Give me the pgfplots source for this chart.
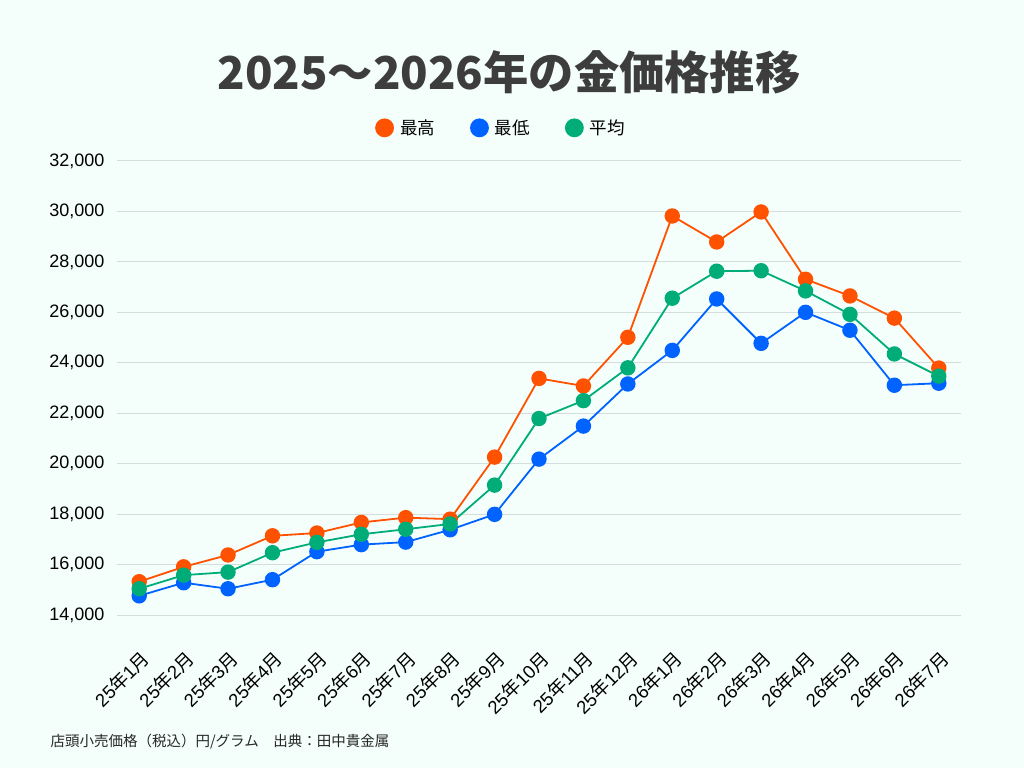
\documentclass[border=0pt]{standalone}
\usepackage{pgfplots}
\pgfplotsset{compat=1.18}
\usepackage{fontspec}
\setmainfont{Liberation Sans}
\newfontfamily\cjk{Noto Sans CJK JP}
\definecolor{bg}{HTML}{F4FFFC}
\definecolor{cHigh}{HTML}{FF5200}
\definecolor{cLow}{HTML}{0062FF}
\definecolor{cAvg}{HTML}{00AD78}
\definecolor{gridc}{HTML}{D5DCDC}
\definecolor{titlec}{HTML}{3D3D3D}
\newcommand\J[1]{{\cjk #1}}
\begin{document}
\begin{tikzpicture}[x=1pt,y=1pt]
\fill[bg] (0,0) rectangle (1024,768);
\useasboundingbox (0,0) rectangle (1024,768);
\node[font=\cjk\bfseries\fontsize{45.3}{45.3}\selectfont, text=titlec] at (509,696) {2025～2026年の金価格推移};
\node[anchor=west, font=\cjk\fontsize{14.5}{14.5}\selectfont, text=black!85] at (47,26) {店頭小売価格（税込）円/グラム　出典：田中貴金属};
\begin{axis}[
  at={(117pt,153pt)}, anchor=south west,
  width=844pt, height=454pt, scale only axis,
  xmin=-0.5, xmax=18.5, ymin=14000, ymax=32000,
  axis line style={draw=none},
  major tick length=0pt,
  ymajorgrids, grid style={gridc, line width=1pt},
  ytick={14000,16000,...,32000},
  scaled y ticks=false,
  /pgf/number format/1000 sep={,},
  /pgf/number format/assume math mode=true,
  y tick label style={font=\fontsize{18}{18}\selectfont, xshift=-9pt},
  xtick={0,...,18},
  xticklabels={25\J{年}1\J{月},25\J{年}2\J{月},25\J{年}3\J{月},25\J{年}4\J{月},25\J{年}5\J{月},25\J{年}6\J{月},25\J{年}7\J{月},25\J{年}8\J{月},25\J{年}9\J{月},25\J{年}10\J{月},25\J{年}11\J{月},25\J{年}12\J{月},26\J{年}1\J{月},26\J{年}2\J{月},26\J{年}3\J{月},26\J{年}4\J{月},26\J{年}5\J{月},26\J{年}6\J{月},26\J{年}7\J{月}},
  x tick label style={yshift=-29pt, xshift=0.5pt, rotate=45, anchor=north east, font=\fontsize{18.5}{18.5}\selectfont},
  clip=false,
  legend columns=3,
  legend style={at={(axis description cs:0.455,1.073)}, anchor=center, draw=none, fill=none,
    font=\cjk\fontsize{17.5}{17.5}\selectfont,
    /tikz/every even column/.append style={column sep=33pt}},
  legend image code/.code={\path[draw=none,fill=none] (0pt,0pt) -- (22pt,0pt); \fill (8.5pt,0pt) circle (8.5pt);},
  every axis plot/.append style={line width=1.8pt, mark=*, mark size=6.8pt, mark options={solid}},
]
\addplot[color=cHigh] coordinates {(0,15320)(1,15910)(2,16380)(3,17140)(4,17250)(5,17670)(6,17860)(7,17800)(8,20260)(9,23380)(10,23080)(11,25010)(12,29820)(13,28790)(14,29980)(15,27310)(16,26650)(17,25770)(18,23790)};
\addlegendentry{最高}
\addplot[color=cLow] coordinates {(0,14760)(1,15280)(2,15040)(3,15400)(4,16510)(5,16790)(6,16890)(7,17380)(8,17990)(9,20180)(10,21490)(11,23160)(12,24490)(13,26530)(14,24770)(15,26000)(16,25290)(17,23110)(18,23190)};
\addlegendentry{最低}
\addplot[color=cAvg] coordinates {(0,15040)(1,15580)(2,15700)(3,16470)(4,16880)(5,17200)(6,17400)(7,17610)(8,19150)(9,21790)(10,22500)(11,23800)(12,26560)(13,27630)(14,27650)(15,26850)(16,25920)(17,24350)(18,23470)};
\addlegendentry{平均}
\end{axis}
\end{tikzpicture}
\end{document}
